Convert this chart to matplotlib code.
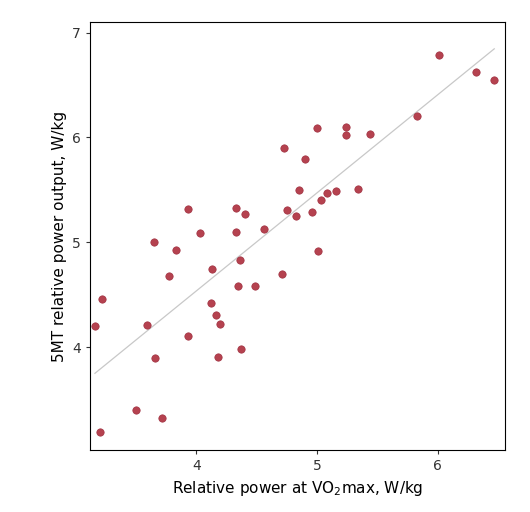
import numpy as np
import matplotlib.pyplot as plt

vo2_power = [3.16, 3.22, 3.20, 3.50, 3.59, 3.65, 3.66, 3.72, 3.77, 3.83, 3.93, 3.93,
             4.03, 4.13, 4.12, 4.16, 4.20, 4.18, 4.33, 4.33, 4.35, 4.36, 4.37, 4.40,
             4.49, 4.56, 4.71, 4.73, 4.75, 4.83, 4.85, 4.90, 4.96, 5.00, 5.01, 5.03,
             5.08, 5.16, 5.24, 5.24, 5.34, 5.44, 5.83, 6.01, 6.32, 6.47]
mt5_power = [4.20, 4.46, 3.19, 3.40, 4.21, 5.00, 3.90, 3.33, 4.68, 4.93, 5.32, 4.11,
             5.09, 4.75, 4.42, 4.31, 4.22, 3.91, 5.33, 5.10, 4.58, 4.83, 3.98, 5.27,
             4.58, 5.13, 4.70, 5.90, 5.31, 5.25, 5.50, 5.79, 5.29, 6.09, 4.92, 5.40,
             5.47, 5.49, 6.10, 6.02, 5.51, 6.03, 6.20, 6.79, 6.62, 6.55]

x = np.array(vo2_power)
y = np.array(mt5_power)

fig = plt.figure(figsize=(5.30, 5.12), dpi=100)
ax = fig.add_axes([0.17, 0.121, 0.783, 0.836])

# least-squares fit line across the data range
slope, icpt = np.polyfit(x, y, 1)
xs = np.array([x.min(), x.max()])
ax.plot(xs, slope * xs + icpt, color="#c8c8c8", lw=0.9, zorder=1)
ax.scatter(x, y, s=28, color="#b5424f", edgecolors="#a03040", linewidths=0.5, zorder=2)

ax.set_xlim(3.12, 6.56)
ax.set_ylim(3.02, 7.1)
ax.set_xticks([4, 5, 6])
ax.set_yticks([4, 5, 6, 7])
ax.tick_params(labelsize=10, colors="#333333", length=3)
for sp in ax.spines.values():
    sp.set_linewidth(0.8)
ax.set_xlabel("Relative power at VO$_2$max, W/kg", fontsize=11)
ax.set_ylabel("5MT relative power output, W/kg", fontsize=11)

fig.savefig("out.png", dpi=100)
